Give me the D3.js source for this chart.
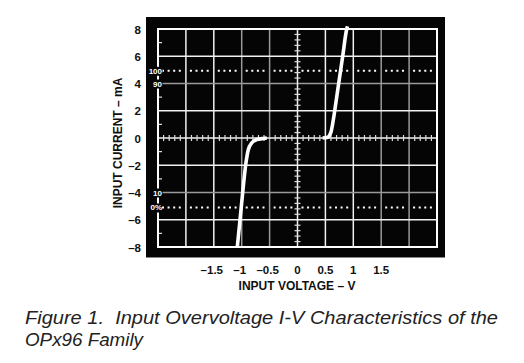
<!DOCTYPE html>
<html><head><meta charset="utf-8">
<script src="https://cdn.jsdelivr.net/npm/d3@7"></script>
<style>
html,body{margin:0;padding:0;background:#fff;}
svg{display:block;}
</style></head>
<body>
<svg id="c" width="524" height="363"></svg>
<script>
// ---- data ----
const xTickValues = [-1.5, -1, -0.5, 0, 0.5, 1, 1.5];
const xTickLabels = ["\u20131.5", "\u20131", "\u20130.5", "0", "0.5", "1", "1.5"];
const yTickValues = [8, 6, 4, 2, 0, -2, -4, -6, -8];
const yTickLabels = ["8", "6", "4", "2", "0", "\u20132", "\u20134", "\u20136", "\u20138"];
const posVoltage = [0.45, 0.53, 0.595, 0.642, 0.667, 0.738, 0.81, 0.882, 0.895];
const posCurrent = [0, 0.03, 0.37, 1.34, 2, 4, 6, 8, 8.2];
const negVoltage = [-1.079, -1.03, -0.982, -0.928, -0.882, -0.821, -0.731, -0.613, -0.55];
const negCurrent = [-8, -6, -4, -1.95, -0.86, -0.37, -0.12, -0.03, 0];
const markerValues = [4.93, 4, -4, -5.1];
const markerLabels = ["100", "90", "10", "0%"];
const dottedLevels = [4.93, -5.1];
const grayGridX = [-1, -0.5, 1.5, 2];
const grayGridY = [4, -4];

const svg = d3.select("#c");
const L = 158, R = 437, T = 29, B = 247;
const x = d3.scaleLinear().domain([-2.5, 2.5]).range([L, R]);
const y = d3.scaleLinear().domain([-8, 8]).range([B, T]);

// black background
svg.append("rect").attr("x", 146).attr("y", 17).attr("width", 299).attr("height", 241).attr("fill", "#050505");
svg.append("line").attr("x1", 146).attr("x2", 445).attr("y1", 257.5).attr("y2", 257.5).attr("stroke", "#888").attr("stroke-width", 1);

// grid
const gx = d3.range(-2, 2.01, 0.5).filter(v => Math.abs(v) > 1e-9);
const gy = d3.range(-6, 6.01, 2).filter(v => Math.abs(v) > 1e-9);
svg.append("g").selectAll("line").data(gx).join("line")
  .attr("x1", d => x(d)).attr("x2", d => x(d)).attr("y1", T).attr("y2", B)
  .attr("stroke", d => grayGridX.some(g => Math.abs(g - d) < 1e-9) ? "#9a9a9a" : "#f2f2f2")
  .attr("stroke-width", 1.5);
svg.append("g").selectAll("line").data(gy).join("line")
  .attr("y1", d => y(d)).attr("y2", d => y(d)).attr("x1", L).attr("x2", R)
  .attr("stroke", d => grayGridY.some(g => Math.abs(g - d) < 1e-9) ? "#9a9a9a" : "#f2f2f2")
  .attr("stroke-width", 1.5);

// dotted level lines
const cols = d3.range(-2.5, 2.49, 0.5);
dottedLevels.forEach(lv => {
  svg.append("g").selectAll("line").data(cols).join("line")
    .attr("x1", d => x(d) + 4).attr("x2", d => x(d + 0.5) - 3)
    .attr("y1", y(lv)).attr("y2", y(lv))
    .attr("stroke", "#fff").attr("stroke-width", 2)
    .attr("stroke-dasharray", "2,3.6");
});

// centre axes
svg.append("line").attr("x1", x(0)).attr("x2", x(0)).attr("y1", T).attr("y2", B).attr("stroke", "#f2f2f2").attr("stroke-width", 1.5);
svg.append("line").attr("y1", y(0)).attr("y2", y(0)).attr("x1", L).attr("x2", R).attr("stroke", "#f2f2f2").attr("stroke-width", 1.5);
const vt = d3.range(-8, 8.01, 0.4).filter(v => Math.abs(v % 2) > 1e-6 && Math.abs(Math.abs(v % 2) - 2) > 1e-6);
svg.append("g").selectAll("line").data(vt).join("line")
  .attr("x1", x(0) - 3).attr("x2", x(0) + 3).attr("y1", d => y(d)).attr("y2", d => y(d))
  .attr("stroke", "#ddd").attr("stroke-width", 1.2);
const ht = d3.range(-2.5, 2.51, 0.1).filter(v => { const r = Math.abs(v * 2 - Math.round(v * 2)); return r > 1e-6; });
svg.append("g").selectAll("line").data(ht).join("line")
  .attr("y1", y(0) - 3).attr("y2", y(0) + 3).attr("x1", d => x(d)).attr("x2", d => x(d))
  .attr("stroke", "#ddd").attr("stroke-width", 1.2);
// left border odd ticks
svg.append("g").selectAll("line").data([7, 5, 3, 1, -1, -3, -5, -7]).join("line")
  .attr("x1", L).attr("x2", L + 4).attr("y1", d => y(d)).attr("y2", d => y(d))
  .attr("stroke", "#ddd").attr("stroke-width", 1.2);

// border
svg.append("rect").attr("x", L).attr("y", T).attr("width", R - L).attr("height", B - T)
  .attr("fill", "none").attr("stroke", "#fff").attr("stroke-width", 2);

// curves
const line = d3.line().x(d => x(d[0])).y(d => y(d[1])).curve(d3.curveMonotoneX);
const posPts = posVoltage.map((v, i) => [v, posCurrent[i]]);
const negPts = negVoltage.map((v, i) => [v, negCurrent[i]]);
svg.append("clipPath").attr("id", "pc").append("rect").attr("x", L - 2).attr("y", T - 3).attr("width", R - L + 4).attr("height", B - T + 6);
[posPts, negPts].forEach(p => {
  svg.append("path").attr("d", line(p)).attr("fill", "none").attr("stroke", "#fff")
    .attr("stroke-width", 3.6).attr("stroke-linecap", "butt").attr("clip-path", "url(#pc)");
});

// marker labels (100/90/10/0%)
markerLabels.forEach((t, i) => {
  const g = svg.append("g");
  const tx = g.append("text").attr("x", 162).attr("y", y(markerValues[i]) + 3)
    .attr("text-anchor", "end").attr("fill", "#fff")
    .style("font-family", "'Liberation Sans', Arial, sans-serif").style("font-weight", "bold").style("font-size", "8px")
    .text(t);
  const bb = tx.node().getBBox();
  g.insert("rect", "text").attr("x", bb.x - 1).attr("y", bb.y).attr("width", bb.width + 1).attr("height", bb.height).attr("fill", "#050505");
});

// y tick labels
svg.append("g").selectAll("text").data(yTickValues).join("text")
  .attr("x", 141).attr("y", d => y(d) + 4.5).attr("text-anchor", "end").attr("fill", "#111")
  .style("font-family", "'Liberation Sans', Arial, sans-serif").style("font-weight", "bold").style("font-size", "11.5px")
  .text((d, i) => yTickLabels[i]);

// x tick labels
svg.append("g").selectAll("text").data(xTickValues).join("text")
  .attr("x", d => x(d) - (d < 0 ? 2 : 0)).attr("y", 273.5).attr("text-anchor", "middle").attr("fill", "#111")
  .style("font-family", "'Liberation Sans', Arial, sans-serif").style("font-weight", "bold").style("font-size", "11.5px")
  .text((d, i) => xTickLabels[i]);

// axis titles
svg.append("text").attr("x", 297).attr("y", 289.5).attr("text-anchor", "middle").attr("fill", "#111")
  .style("font-family", "'Liberation Sans', Arial, sans-serif").style("font-weight", "bold").style("font-size", "12px")
  .text("INPUT VOLTAGE \u2013 V");
svg.append("text").attr("transform", "translate(122,143) rotate(-90)").attr("text-anchor", "middle").attr("fill", "#111")
  .style("font-family", "'Liberation Sans', Arial, sans-serif").style("font-weight", "bold").style("font-size", "12px")
  .text("INPUT CURRENT \u2013 mA");

// caption
svg.append("text").attr("x", 25).attr("y", 324).attr("fill", "#222")
  .style("font-family", "'Liberation Sans', Arial, sans-serif").style("font-style", "italic").style("font-size", "17.5px")
  .style("white-space", "pre").attr("textLength", 473).attr("lengthAdjust", "spacingAndGlyphs")
  .text("Figure 1.  Input Overvoltage I-V Characteristics of the");
svg.append("text").attr("x", 25).attr("y", 346).attr("fill", "#222")
  .style("font-family", "'Liberation Sans', Arial, sans-serif").style("font-style", "italic").style("font-size", "17.5px")
  .attr("textLength", 118).attr("lengthAdjust", "spacingAndGlyphs")
  .text("OPx96 Family");
</script>
</body></html>
